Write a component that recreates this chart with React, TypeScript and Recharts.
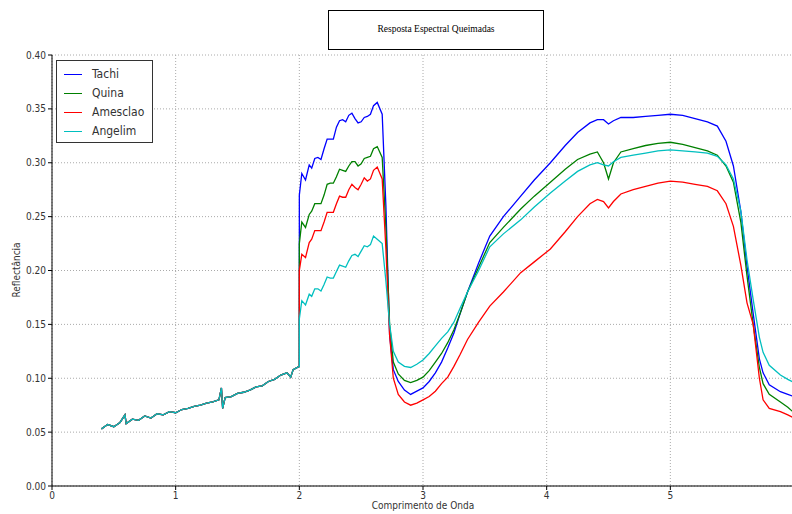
import React from 'react';
import { LineChart, Line, XAxis, YAxis, CartesianGrid } from 'recharts';

const startX = [0.40,0.45,0.50,0.55,0.59,0.60,0.65,0.70,0.75,0.80,0.85,0.90,0.95,1.00,1.05,1.10,1.15,1.20,1.25,1.30,1.35,1.37,1.38,1.40,1.45,1.50,1.55,1.60,1.65,1.70,1.75,1.80,1.85,1.90,1.93,1.95,2.00];
const sharedStart = [0.053,0.057,0.055,0.059,0.066,0.058,0.062,0.061,0.065,0.063,0.067,0.066,0.069,0.068,0.071,0.072,0.074,0.075,0.077,0.078,0.080,0.091,0.072,0.082,0.083,0.086,0.087,0.089,0.092,0.093,0.097,0.099,0.103,0.105,0.101,0.108,0.111];

const restX = [2.00,2.02,2.05,2.08,2.10,2.125,2.15,2.175,2.20,2.225,2.25,2.275,2.30,2.325,2.35,2.375,2.40,2.425,2.45,2.475,2.50,2.525,2.55,2.575,2.60,2.63,2.67,2.70,2.73,2.76,2.80,2.85,2.90,2.95,3.00,
  3.05,3.10,3.15,3.20,3.25,3.30,3.36,3.45,3.54,3.65,3.79,3.90,4.03,4.15,4.25,4.35,4.41,4.46,4.50,4.54,4.60,4.70,4.80,4.90,5.00,5.10,5.20,5.30,5.38,5.45,5.51,5.57,5.62,5.67,5.72,5.75,5.80,5.89,5.95,6.00];

const tachiRest = [0.270,0.290,0.284,0.298,0.295,0.304,0.305,0.303,0.313,0.322,0.322,0.322,0.333,0.339,0.340,0.338,0.344,0.346,0.341,0.337,0.338,0.342,0.343,0.345,0.353,0.356,0.345,0.260,0.140,0.108,0.097,0.089,0.085,0.088,0.091,
  0.097,0.105,0.115,0.128,0.142,0.160,0.180,0.207,0.232,0.250,0.269,0.284,0.300,0.316,0.328,0.337,0.340,0.340,0.336,0.339,0.342,0.342,0.343,0.344,0.345,0.344,0.341,0.338,0.334,0.320,0.297,0.255,0.204,0.160,0.118,0.105,0.094,0.0875,0.085,0.083];
const quinaRest = [0.225,0.245,0.240,0.252,0.255,0.262,0.262,0.262,0.270,0.280,0.281,0.281,0.287,0.294,0.293,0.292,0.297,0.301,0.301,0.297,0.299,0.304,0.305,0.306,0.313,0.315,0.305,0.240,0.150,0.115,0.104,0.098,0.096,0.098,0.101,
  0.107,0.115,0.123,0.133,0.145,0.160,0.180,0.203,0.226,0.240,0.257,0.269,0.282,0.294,0.303,0.308,0.310,0.300,0.285,0.300,0.310,0.313,0.316,0.318,0.319,0.317,0.314,0.311,0.307,0.297,0.282,0.245,0.195,0.150,0.110,0.095,0.085,0.078,0.073,0.068];
const amesclaoRest = [0.200,0.215,0.212,0.226,0.229,0.237,0.237,0.237,0.245,0.254,0.254,0.254,0.262,0.269,0.268,0.268,0.275,0.280,0.277,0.275,0.280,0.286,0.283,0.285,0.293,0.296,0.285,0.220,0.140,0.100,0.085,0.078,0.075,0.077,0.080,
  0.083,0.088,0.095,0.101,0.111,0.122,0.136,0.152,0.167,0.180,0.198,0.208,0.220,0.236,0.250,0.262,0.266,0.264,0.258,0.264,0.271,0.275,0.278,0.281,0.283,0.282,0.280,0.278,0.274,0.262,0.241,0.205,0.170,0.150,0.100,0.080,0.072,0.069,0.066,0.063];
const angelimRest = [0.155,0.172,0.168,0.178,0.176,0.183,0.183,0.181,0.187,0.194,0.193,0.193,0.199,0.205,0.204,0.203,0.209,0.214,0.215,0.213,0.218,0.223,0.222,0.224,0.232,0.229,0.225,0.190,0.150,0.125,0.115,0.111,0.110,0.113,0.117,
  0.123,0.130,0.137,0.143,0.152,0.165,0.180,0.200,0.222,0.234,0.247,0.259,0.272,0.283,0.292,0.298,0.300,0.298,0.297,0.301,0.305,0.307,0.309,0.311,0.312,0.311,0.310,0.309,0.306,0.298,0.285,0.255,0.210,0.173,0.138,0.124,0.112,0.103,0.099,0.096];

const seriesNames = ['Tachi', 'Quina', 'Amesclao', 'Angelim'];
const seriesColors = ['#0000ff', '#008000', '#ff0000', '#00bfbf'];
const xTicks = [0, 1, 2, 3, 4, 5];
const yTicks = [0, 0.05, 0.1, 0.15, 0.2, 0.25, 0.3, 0.35, 0.4];

const xs = [...startX, ...restX];
const seriesValues = [
  [...sharedStart, ...tachiRest],
  [...sharedStart, ...quinaRest],
  [...sharedStart, ...amesclaoRest],
  [...sharedStart, ...angelimRest],
];
const data = xs.map((x, i) => {
  const row: Record<string, number> = { x };
  seriesNames.forEach((n, s) => { row[n] = seriesValues[s][i]; });
  return row;
});

const font = '"DejaVu Sans Condensed", "DejaVu Sans", sans-serif';

export default function App() {
  return (
    <div style={{ position: 'absolute', left: 0, top: 0, width: 792, height: 514, overflow: 'hidden', background: '#fff' }}>
      <LineChart width={800} height={514} data={data} margin={{ top: 55, right: 6, bottom: 0, left: 0 }}>
        <CartesianGrid stroke="#aaa" strokeDasharray="1 2" />
        <XAxis dataKey="x" type="number" domain={[0, 6]} ticks={xTicks} height={28}
          tick={{ fontSize: 10, fill: '#333', fontFamily: font }} tickSize={4} stroke="#000"
          tickFormatter={(v: number) => String(v)} />
        <XAxis xAxisId="top" orientation="top" dataKey="x" type="number" domain={[0, 6]} ticks={xTicks} height={0}
          tick={false} tickSize={4} stroke="#000" mirror />
        <YAxis type="number" domain={[0, 0.4]} ticks={yTicks} width={52}
          tick={{ fontSize: 10, fill: '#333', fontFamily: font }} tickSize={4} stroke="#000"
          tickFormatter={(v: number) => v.toFixed(2)} />
        {seriesNames.map((n, i) => (
          <Line key={n} dataKey={n} type="linear" stroke={seriesColors[i]} strokeWidth={1.3}
            dot={false} isAnimationActive={false} />
        ))}
      </LineChart>
      <div style={{ position: 'absolute', left: 328, top: 10, width: 216, height: 40, border: '1px solid #000',
        fontFamily: '"Liberation Serif", serif', fontSize: 9.5, textAlign: 'center', lineHeight: '12px', paddingTop: 12, boxSizing: 'border-box' }}>
        Resposta Espectral Queimadas
      </div>
      <div style={{ position: 'absolute', left: 56, top: 60, width: 95, height: 81, border: '1px solid #333', background: '#fff' }}>
        {seriesNames.map((n, i) => (
          <div key={n} style={{ position: 'absolute', left: 7, top: 4 + i * 19, height: 18, display: 'flex', alignItems: 'center' }}>
            <div style={{ width: 18, height: 0, borderTop: `1.2px solid ${seriesColors[i]}` }} />
            <span style={{ marginLeft: 10, fontFamily: font, fontSize: 12, color: '#333' }}>{n}</span>
          </div>
        ))}
      </div>
      <div style={{ position: 'absolute', left: 16, top: 270, transform: 'translate(-50%, -50%) rotate(-90deg)',
        fontFamily: font, fontSize: 10, color: '#333', whiteSpace: 'nowrap' }}>Reflectância</div>
      <div style={{ position: 'absolute', left: 423, top: 500, transform: 'translateX(-50%)',
        fontFamily: font, fontSize: 10, lineHeight: '12px', color: '#333', whiteSpace: 'nowrap' }}>Comprimento de Onda</div>
    </div>
  );
}
